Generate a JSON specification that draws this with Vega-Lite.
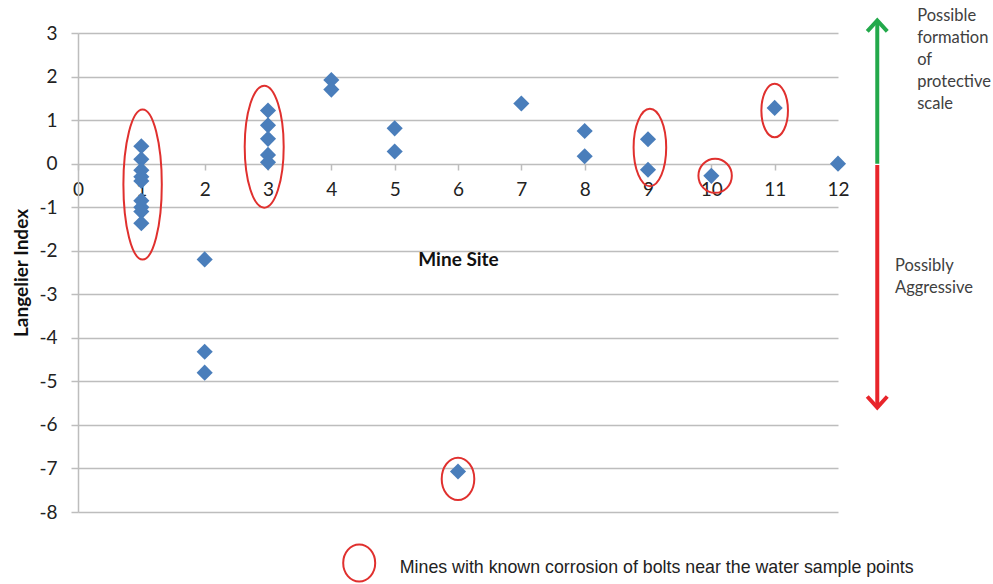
{
  "$schema": "https://vega.github.io/schema/vega-lite/v6.json",
  "autosize": {"type": "none"},
  "width": 760,
  "height": 479,
  "padding": {"left": 78, "top": 33, "right": 155, "bottom": 72},
  "background": "white",
  "config": {
    "view": {"stroke": null},
    "font": "Lato",
    "axis": {"labelFont": "Lato", "titleFont": "Lato"}
  },
  "datasets": {
    "lsi": [
      {"site": 1, "lsi": 0.4}, {"site": 1, "lsi": 0.1}, {"site": 1, "lsi": -0.15}, {"site": 1, "lsi": -0.3},
      {"site": 1, "lsi": -0.4}, {"site": 1, "lsi": -0.85}, {"site": 1, "lsi": -1.0}, {"site": 1, "lsi": -1.1},
      {"site": 1, "lsi": -1.37},
      {"site": 2, "lsi": -2.2}, {"site": 2, "lsi": -4.32}, {"site": 2, "lsi": -4.8},
      {"site": 3, "lsi": 1.22}, {"site": 3, "lsi": 0.88}, {"site": 3, "lsi": 0.57}, {"site": 3, "lsi": 0.2}, {"site": 3, "lsi": 0.03},
      {"site": 4, "lsi": 1.92}, {"site": 4, "lsi": 1.7},
      {"site": 5, "lsi": 0.81}, {"site": 5, "lsi": 0.28},
      {"site": 6, "lsi": -7.07},
      {"site": 7, "lsi": 1.38},
      {"site": 8, "lsi": 0.75}, {"site": 8, "lsi": 0.17},
      {"site": 9, "lsi": 0.56}, {"site": 9, "lsi": -0.14},
      {"site": 10, "lsi": -0.28},
      {"site": 11, "lsi": 1.28},
      {"site": 12, "lsi": 0.0}
    ],
    "ellipses": [
      {"x": 1.02, "y": -0.48, "id": "e1"},
      {"x": 2.94, "y": 0.39, "id": "e3"},
      {"x": 6.0, "y": -7.24, "id": "e6"},
      {"x": 9.03, "y": 0.37, "id": "e9"},
      {"x": 10.06, "y": -0.28, "id": "e10"},
      {"x": 11.0, "y": 1.22, "id": "e11"},
      {"x": 4.44, "y": -9.17, "id": "key"}
    ],
    "arrows": [
      {"x": 12.62, "from": 0, "to": 3.29, "dir": "up"},
      {"x": 12.62, "from": -0.03, "to": -5.6, "dir": "down"}
    ],
    "notes": [
      {"x": 13.25, "y": 3.4, "label": "Possible\nformation\nof\nprotective\nscale"},
      {"x": 12.9, "y": -2.34, "label": "Possibly\nAggressive"}
    ],
    "keytext": [
      {"x": 5.08, "y": -9.28, "label": "Mines with known corrosion of bolts near the water sample points"}
    ]
  },
  "layer": [
    {
      "data": {"name": "arrows"},
      "mark": {"type": "rule", "strokeWidth": 4, "strokeCap": "butt"},
      "encoding": {
        "x": {"field": "x", "type": "quantitative"},
        "y": {"field": "from", "type": "quantitative"},
        "y2": {"field": "to"},
        "color": {"field": "dir", "type": "nominal", "scale": {"domain": ["up", "down"], "range": ["#23a94b", "#e8252b"]}, "legend": null}
      }
    },
    {
      "data": {"name": "arrows"},
      "mark": {"type": "point", "filled": false, "strokeWidth": 4, "size": 400, "opacity": 1, "strokeJoin": "miter"},
      "encoding": {
        "x": {"field": "x", "type": "quantitative"},
        "y": {"field": "to", "type": "quantitative"},
        "color": {"field": "dir", "type": "nominal", "scale": {"domain": ["up", "down"], "range": ["#23a94b", "#e8252b"]}, "legend": null},
        "shape": {"field": "dir", "type": "nominal", "scale": {"domain": ["up", "down"], "range": ["M-1,1.1L0,0L1,1.1", "M-1,-1.1L0,0L1,-1.1"]}, "legend": null}
      }
    },
    {
      "data": {"name": "lsi"},
      "mark": {"type": "point", "shape": "diamond", "filled": true, "size": 260, "color": "#4a7ebb", "opacity": 1},
      "encoding": {
        "x": {
          "field": "site", "type": "quantitative",
          "scale": {"domain": [0, 12], "nice": false, "zero": false},
          "axis": {
            "values": [0, 1, 2, 3, 4, 5, 6, 7, 8, 9, 10, 11, 12],
            "format": "d",
            "title": "Mine Site",
            "offset": -348,
            "domain": false,
            "grid": false,
            "ticks": true,
            "tickSize": 6,
            "tickColor": "#bdbdbd",
            "tickWidth": 1.5,
            "labelFontSize": 19,
            "labelColor": "#222222",
            "labelPadding": 10,
            "labelFlush": false,
            "labelOverlap": false,
            "titleFontSize": 19,
            "titleFontWeight": "bold",
            "titleColor": "#111111",
            "titlePadding": 51
          }
        },
        "y": {
          "field": "lsi", "type": "quantitative",
          "scale": {"domain": [-8, 3], "nice": false, "zero": false},
          "axis": {
            "values": [-8, -7, -6, -5, -4, -3, -2, -1, 0, 1, 2, 3],
            "labelExpr": "datum.value < 0 ? '-' + abs(datum.value) : '' + datum.value",
            "title": "Langelier Index",
            "domain": true,
            "domainColor": "#bdbdbd",
            "domainWidth": 1.5,
            "grid": true,
            "gridColor": "#bdbdbd",
            "gridWidth": 1.5,
            "tickSize": 7,
            "tickColor": "#bdbdbd",
            "tickWidth": 1.5,
            "labelFontSize": 19,
            "labelColor": "#222222",
            "labelPadding": 14,
            "labelOverlap": false,
            "labelFlush": false,
            "titleFontSize": 19,
            "titleFontWeight": "bold",
            "titleColor": "#111111",
            "titlePadding": 7
          }
        }
      }
    },
    {
      "data": {"name": "ellipses"},
      "mark": {"type": "point", "filled": false, "size": 10000, "strokeWidth": 2, "color": "#e0302e", "opacity": 1},
      "encoding": {
        "x": {"field": "x", "type": "quantitative"},
        "y": {"field": "y", "type": "quantitative"},
        "shape": {
          "field": "id", "type": "nominal", "legend": null,
          "scale": {
            "domain": ["e1", "e3", "e6", "e9", "e10", "e11", "key"],
            "range": [
              "M0,-1.5A0.384,1.5 0 1,1 0,1.5A0.384,1.5 0 1,1 0,-1.5Z",
              "M0,-1.22A0.39,1.22 0 1,1 0,1.22A0.39,1.22 0 1,1 0,-1.22Z",
              "M0,-0.424A0.326,0.424 0 1,1 0,0.424A0.326,0.424 0 1,1 0,-0.424Z",
              "M0,-0.774A0.326,0.774 0 1,1 0,0.774A0.326,0.774 0 1,1 0,-0.774Z",
              "M0,-0.34A0.334,0.34 0 1,1 0,0.34A0.334,0.34 0 1,1 0,-0.34Z",
              "M0,-0.536A0.266,0.536 0 1,1 0,0.536A0.266,0.536 0 1,1 0,-0.536Z",
              "M0,-0.37A0.32,0.37 0 1,1 0,0.37A0.32,0.37 0 1,1 0,-0.37Z"
            ]
          }
        }
      }
    },
    {
      "data": {"name": "notes"},
      "mark": {"type": "text", "align": "left", "baseline": "middle", "lineBreak": "\n", "lineHeight": 22, "fontSize": 16.5, "font": "Lato", "color": "#404040"},
      "encoding": {
        "x": {"field": "x", "type": "quantitative"},
        "y": {"field": "y", "type": "quantitative"},
        "text": {"field": "label"}
      }
    },
    {
      "data": {"name": "keytext"},
      "mark": {"type": "text", "align": "left", "baseline": "middle", "fontSize": 17.8, "font": "Liberation Sans", "color": "#222222"},
      "encoding": {
        "x": {"field": "x", "type": "quantitative"},
        "y": {"field": "y", "type": "quantitative"},
        "text": {"field": "label"}
      }
    }
  ],
  "resolve": {"scale": {"shape": "independent", "color": "independent"}}
}
